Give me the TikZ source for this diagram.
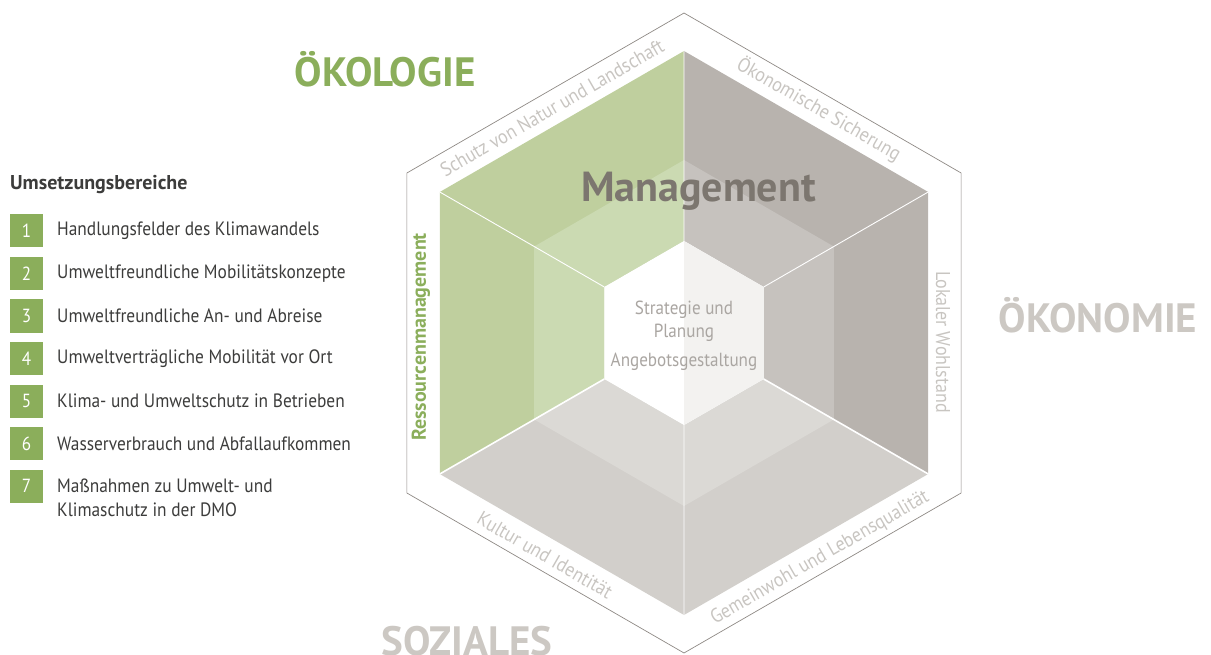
\documentclass[tikz,border=0pt]{standalone}
\usepackage{fontspec}
\setmainfont{PT Sans}[FakeStretch=0.9]
\newfontfamily\headfont{PT Sans}
\usetikzlibrary{positioning}
\definecolor{oekogreen}{HTML}{8BAE5B}
\definecolor{textdark}{HTML}{3C3C3B}
\definecolor{greenface}{HTML}{BFCF9E}
\definecolor{greenlight}{HTML}{CBDAB2}
\definecolor{greyface}{HTML}{B8B3AE}
\definecolor{greylight}{HTML}{C6C2BE}
\definecolor{baseface}{HTML}{D2CFCB}
\definecolor{baselight}{HTML}{DBD9D5}
\definecolor{labelgrey}{HTML}{C8C5C1}
\definecolor{titlegrey}{HTML}{CCC8C3}
\definecolor{mgmtgrey}{HTML}{7C766F}
\definecolor{rimgrey}{HTML}{8E8984}
\definecolor{coregrey}{HTML}{AAA6A2}
\definecolor{whiteshade}{HTML}{F3F2F0}
\tikzset{
  numbox/.style={fill=oekogreen, minimum size=33pt, inner sep=0pt, text=white, font=\fontsize{19}{23}\selectfont},
  itemtext/.style={anchor=west, inner sep=0pt, text=textdark, font=\fontsize{19.3}{23.3}\selectfont, align=left},
  pillar/.style={anchor=base, inner sep=0pt, font=\headfont\fontsize{41}{45}\selectfont\bfseries},
  rimlabel/.style={text=labelgrey, inner sep=0pt, font=\fontsize{20}{22}\selectfont},
  corelabel/.style={text=coregrey, inner sep=0pt, font=\fontsize{19}{23}\selectfont},
  sepline/.style={draw=white, line width=0.9pt},
}
\begin{document}
\begin{tikzpicture}[x=1pt, y=-1pt, line join=round]
\useasboundingbox (0,0) rectangle (1211,655);
% hexagon
\begin{scope}[shift={(684,333)}, y=1pt]
\foreach \i in {1,...,6}{
  \coordinate (O\i) at ({30+60*\i}:320);
  \coordinate (A\i) at ({30+60*\i}:282);
  \coordinate (M\i) at ({30+60*\i}:173);
  \coordinate (W\i) at ({30+60*\i}:92);}
\fill[greenface] (A1)--(A2)--(A3)--(W3)--(W2)--(W1)--cycle;
\fill[greyface] (A1)--(A6)--(A5)--(W5)--(W6)--(W1)--cycle;
\fill[baseface] (A3)--(A4)--(A5)--(W5)--(W4)--(W3)--cycle;
\fill[greenlight] (M1)--(M2)--(M3)--(W3)--(W2)--(W1)--cycle;
\fill[greylight] (M1)--(M6)--(M5)--(W5)--(W6)--(W1)--cycle;
\fill[baselight] (M3)--(M4)--(M5)--(W5)--(W4)--(W3)--cycle;
\fill[white] (W1)--(W2)--(W3)--(W4)--(W5)--(W6)--cycle;
\fill[whiteshade] (W1)--(W6)--(W5)--(W4)--cycle;
\draw[sepline] (A1)--(W1) (A2)--(W2) (A6)--(W6) (A4)--(W4);
\draw[sepline, line width=1.6pt] (A3)--(W3) (A5)--(W5);
\draw[rimgrey, line width=0.7pt] (O1)--(O2)--(O3)--(O4)--(O5)--(O6)--cycle;
\end{scope}
% rim labels
\node[rimlabel, rotate=30] (natur) at (552,108) {Schutz von Natur und Landschaft};
\node[rimlabel, rotate=-30] (sicherung) at (819,109) {Ökonomische Sicherung};
\node[rimlabel, rotate=-90] (wohlstand) at (943,342) {Lokaler Wohlstand};
\node[rimlabel, rotate=30] (gemeinwohl) at (820,558) {Gemeinwohl und Lebensqualität};
\node[rimlabel, rotate=-30] (kultur) at (545,555) {Kultur und Identität};
\node[rimlabel, rotate=90, text=oekogreen, font=\headfont\fontsize{20}{22}\selectfont\bfseries] (ressourcen) at (421,337) {Ressourcenmanagement};
% core
\node[corelabel, align=center] (strategie) at (684,321) {Strategie und\\Planung};
\node[corelabel] (angebot) at (684,362) {Angebotsgestaltung};
\node[pillar, text=mgmtgrey, font=\headfont\fontsize{42}{46}\selectfont\bfseries] (management) at (698.5,202) {Management};
% pillars
\node[pillar, text=oekogreen] (oekologie) at (385,87) {ÖKOLOGIE};
\node[pillar, text=titlegrey] (oekonomie) at (1098,333) {ÖKONOMIE};
\node[pillar, text=titlegrey] (soziales) at (467,655) {SOZIALES};
% legend
\node[anchor=base west, inner sep=0pt, text=textdark, font=\headfont\fontsize{20}{24}\selectfont\bfseries] (legende) at (10,190) {Umsetzungsbereiche};
\foreach \i/\txt in {1/Handlungsfelder des Klimawandels,2/Umweltfreundliche Mobilitätskonzepte,3/Umweltfreundliche An- und Abreise,4/Umweltverträgliche Mobilität vor Ort,5/Klima- und Umweltschutz in Betrieben,6/Wasserverbrauch und Abfallaufkommen}{
  \node[numbox] (box\i) at (26.5,{231+42.5*(\i-1)}) {\i};
  \node[itemtext] (item\i) at (57,{231+42.5*(\i-1)}) {\txt};}
\node[numbox] (box7) at (26.5,486) {7};
\node[itemtext] (item7) at (57,497.7) {Maßnahmen zu Umwelt- und\\Klimaschutz in der DMO};
\end{tikzpicture}
\end{document}
